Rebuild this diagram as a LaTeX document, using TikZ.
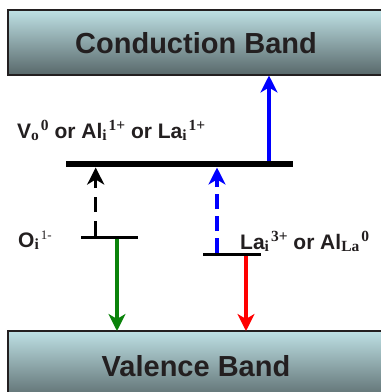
\documentclass[tikz,border=0pt]{standalone}
\usepackage{fontspec}
\setmainfont{Liberation Sans}
\newfontfamily\scrfont{Liberation Serif}
\usetikzlibrary{arrows.meta}

\definecolor{bandtop}{RGB}{190,224,228}
\definecolor{bandbot}{RGB}{88,104,106}
\definecolor{bandtext}{RGB}{35,31,32}
\definecolor{relaxgreen}{RGB}{10,130,10}

% defect symbol: base, subscript, superscript
\newcommand\scrsize{\scrfont\fontsize{15.5}{15.5}\selectfont}
\newcommand\defect[3]{#1\raisebox{-0.2ex}{\scrsize #2}\kern2pt\raisebox{0.7ex}{\scrsize #3}}

\begin{document}
\begin{tikzpicture}[x=1pt,y=-1pt,
  band/.style={draw=bandtext,line width=1.5pt,top color=bandtop,bottom color=bandbot},
  bandlabel/.style={font=\fontsize{29}{34}\selectfont\bfseries,text=bandtext},
  deflabel/.style={anchor=base west,inner sep=0pt,font=\fontsize{21}{25}\selectfont\bfseries,text=bandtext},
  trans/.style={line width=3.5pt,-{Stealth[length=17pt,width=17pt,inset=5pt]}}]
\useasboundingbox (0,0) rectangle (381,392);

% bands
\draw[band] (8,10) rectangle (392,75);
\node[bandlabel] (cb) at (196,43) {Conduction Band};
\draw[band] (8,331) rectangle (392,402);
\node[bandlabel] (vb) at (196,366) {Valence Band};

% defect levels
\coordinate (deepL) at (66,164);
\coordinate (deepR) at (293,164);
\coordinate (oxL) at (81,237.5);
\coordinate (oxR) at (138,237.5);
\coordinate (laL) at (203,254.5);
\coordinate (laR) at (261,254.5);
\draw[line width=6.5pt] (deepL) -- (deepR);
\draw[line width=3pt] (oxL) -- (oxR);
\draw[line width=3pt] (laL) -- (laR);

\node[deflabel] (deeplab) at (17,138.5) {\defect{V}{o}{0} or \defect{Al}{i}{1+} or \defect{La}{i}{1+}};
\node[deflabel] (oxlab) at (18,247.5) {O\raisebox{-0.2ex}{\scrsize i}\kern2pt\raisebox{0.7ex}{\scrfont\mdseries\fontsize{13}{13}\selectfont 1-}};
\node[deflabel] (lalab) at (240,249.5) {\defect{La}{i}{3+} or \defect{Al}{La}{0}};

% transitions
\coordinate (cbup) at (269,75.5);
\coordinate (deepup) at (269,161);
\coordinate (oxup) at (95.7,236);
\coordinate (oxtop) at (95.7,167.5);
\coordinate (laup) at (217,253);
\coordinate (latop) at (217,167.5);
\coordinate (oxdown) at (117,239);
\coordinate (vbox) at (117,331);
\coordinate (ladown) at (246,256);
\coordinate (vbla) at (246,331);

\draw[trans,blue] (deepup) -- (cbup);
\draw[trans,dash pattern=on 15pt off 9pt] (oxup) -- (oxtop);
\draw[trans,blue,dash pattern=on 15pt off 7pt] (laup) -- (latop);
\draw[trans,relaxgreen] (oxdown) -- (vbox);
\draw[trans,red] (ladown) -- (vbla);
\end{tikzpicture}
\end{document}
